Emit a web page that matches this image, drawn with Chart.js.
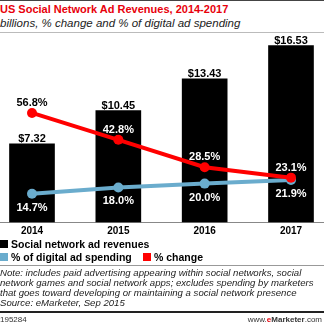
<!DOCTYPE html>
<html>
<head>
<meta charset="utf-8">
<script src="https://cdn.jsdelivr.net/npm/chart.js@4"></script>
<style>
  html, body { margin: 0; padding: 0; background: #fff; }
  #wrap { position: relative; width: 324px; height: 325px; overflow: hidden; font-family: "Liberation Sans", Arial, sans-serif; }
  #topline { position: absolute; left: 0; top: 0; width: 324px; height: 1px; background: #444; }
  #title { position: absolute; left: 0; top: 3px; font-size: 11px; font-weight: bold; color: #e8000b; white-space: nowrap; }
  #subtitle { position: absolute; left: 0; top: 17px; font-size: 11.5px; font-style: italic; color: #222; white-space: nowrap; }
  #line2 { position: absolute; left: 0; top: 32px; width: 324px; height: 1px; background: #bbb; }
  #chartBox { position: absolute; left: 0; top: 0; width: 324px; height: 243px; }
  #legend { position: absolute; left: 0; top: 238px; font-size: 10.5px; font-weight: bold; color: #000; }
  .row { height: 13px; line-height: 13px; white-space: nowrap; }
  .item { display: inline-block; }
  .sw { display: inline-block; width: 8px; height: 8px; margin-right: 3px; }
  #sep { position: absolute; left: 0; top: 265px; width: 324px; height: 1px; background: #999; }
  #note { position: absolute; left: 0; top: 268px; width: 326px; font-size: 9.6px; line-height: 10px; font-style: italic; color: #222; white-space: nowrap; }
  #bottomline { position: absolute; left: 0; top: 311px; width: 324px; height: 2px; background: #222; }
  #code { position: absolute; left: 0; top: 315px; font-size: 8px; color: #333; }
  #site { position: absolute; right: 2px; top: 315px; font-size: 8px; color: #333; }
  #site b { color: #e8000b; }
</style>
</head>
<body>
<div id="wrap">
  <div id="topline"></div>
  <div id="title">US Social Network Ad Revenues, 2014-2017</div>
  <div id="subtitle">billions, % change and % of digital ad spending</div>
  <div id="line2"></div>
  <div id="chartBox"><canvas id="chart" width="324" height="243"></canvas></div>
  <div id="legend"></div>
  <div id="sep"></div>
  <div id="note">Note: includes paid advertising appearing within social networks, social<br>network games and social network apps; excludes spending by marketers<br>that goes toward developing or maintaining a social network presence<br>Source: eMarketer, Sep 2015</div>
  <div id="bottomline"></div>
  <div id="code">195284</div>
  <div id="site">www.<b>e</b><span style="font-weight:bold">Marketer</span>.com</div>
</div>
<script>
const years = ['2014', '2015', '2016', '2017'];
const revenues = [7.32, 10.45, 13.43, 16.53];
const pctChange = [56.8, 42.8, 28.5, 23.1];
const pctDigital = [14.7, 18.0, 20.0, 21.9];

const barColor = '#000000';
const redColor = '#ff0000';
const blueColor = '#6aaccd';

// legend in html
const legendRows = [
    [['Social network ad revenues', barColor]],
    [['% of digital ad spending', blueColor], ['% change', redColor]]
];
document.getElementById('legend').innerHTML = legendRows.map(function (row) {
    return '<div class="row">' + row.map(function (it, i) {
        const w = i === 0 && row.length > 1 ? 'style="width:143px"' : '';
        return '<span class="item" ' + w + '><span class="sw" style="background:' + it[1] + '"></span>' + it[0] + '</span>';
    }).join('') + '</div>';
}).join('');

const labelPlugin = {
    id: 'valueLabels',
    afterDraw(chart) {
        const ctx = chart.ctx;
        const barMeta = chart.getDatasetMeta(0);
        ctx.save();
        ctx.font = 'bold 11px "Liberation Sans", Arial, sans-serif';
        ctx.textAlign = 'center';
        ctx.textBaseline = 'alphabetic';
        barMeta.data.forEach(function (bar, i) {
            ctx.fillStyle = '#000';
            ctx.fillText('$' + revenues[i].toFixed(2), bar.x, bar.y - 2);
        });
        [1, 2].forEach(function (di) {
            const meta = chart.getDatasetMeta(di);
            const vals = chart.data.datasets[di].data;
            meta.data.forEach(function (pt, i) {
                const y = di === 1 ? pt.y - 7 : pt.y + 17;
                const inBar = y - 8 > barMeta.data[i].y;
                ctx.fillStyle = inBar ? '#fff' : '#000';
                ctx.fillText(vals[i].toFixed(1) + '%', pt.x, y);
            });
        });
        ctx.restore();
    }
};

const axisLinePlugin = {
    id: 'axisLine',
    beforeDatasetsDraw(chart) {
        const ctx = chart.ctx;
        const y = Math.round(chart.chartArea.bottom) + 0.5;
        ctx.save();
        ctx.strokeStyle = '#888';
        ctx.lineWidth = 1;
        ctx.beginPath();
        ctx.moveTo(0, y);
        ctx.lineTo(chart.width, y);
        ctx.stroke();
        ctx.restore();
    }
};

new Chart(document.getElementById('chart'), {
    type: 'bar',
    data: {
        labels: years,
        datasets: [
            {
                label: 'Social network ad revenues',
                data: revenues,
                backgroundColor: barColor,
                barThickness: 45,
                clip: false,
                yAxisID: 'y',
                order: 2
            },
            {
                type: 'line',
                label: '% change',
                data: pctChange,
                borderColor: redColor,
                backgroundColor: redColor,
                borderWidth: 4,
                pointRadius: 5,
                pointBorderWidth: 0,
                clip: false,
                yAxisID: 'y1',
                order: 0
            },
            {
                type: 'line',
                label: '% of digital ad spending',
                data: pctDigital,
                borderColor: blueColor,
                backgroundColor: blueColor,
                borderWidth: 4,
                pointRadius: 5,
                pointBorderWidth: 0,
                clip: false,
                yAxisID: 'y1',
                order: 1
            }
        ]
    },
    options: {
        responsive: false,
        animation: false,
        devicePixelRatio: 1,
        layout: { padding: { top: 30, left: 32, right: 33, bottom: 3 } },
        plugins: {
            legend: { display: false },
            tooltip: { enabled: false }
        },
        scales: {
            x: {
                offset: false,
                grid: { display: false, drawTicks: false },
                border: { display: false },
                ticks: {
                    color: '#000',
                    padding: 3,
                    font: { family: '"Liberation Sans", Arial, sans-serif', weight: 'bold', size: 10 }
                }
            },
            y: { display: false, min: 0, max: 18 },
            y1: { display: false, min: 0, max: 100 }
        }
    },
    plugins: [labelPlugin, axisLinePlugin]
});
</script>
</body>
</html>
